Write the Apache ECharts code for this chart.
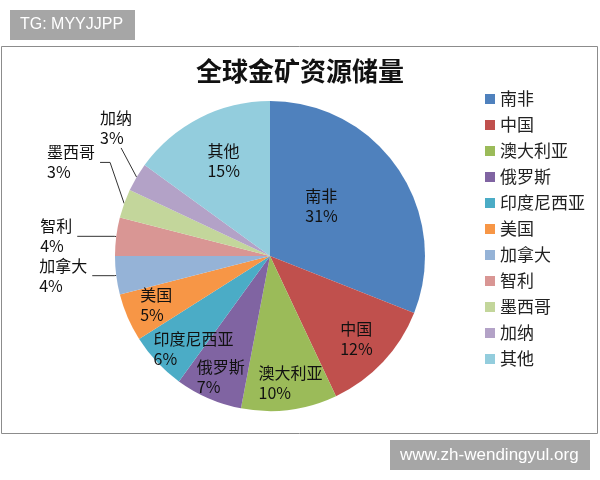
<!DOCTYPE html>
<html>
<head>
<meta charset="utf-8">
<script src="https://cdn.jsdelivr.net/npm/echarts@6/dist/echarts.min.js"></script>
<style>
  html, body { margin: 0; padding: 0; background: #fff; }
  #chart { width: 600px; height: 480px; }
</style>
</head>
<body>
<div id="chart"></div>
<script>
const titleText = "全球金矿资源储量";
const countries = ["南非", "中国", "澳大利亚", "俄罗斯", "印度尼西亚", "美国", "加拿大", "智利", "墨西哥", "加纳", "其他"];
const shares = [31, 12, 10, 7, 6, 5, 4, 4, 3, 3, 15];
const colors = ["#4f81bd", "#c0504d", "#9bbb59", "#8064a2", "#4bacc6", "#f79646", "#95b3d7", "#d99694", "#c3d69b", "#b3a2c7", "#93cddd"];

// 哪些标签画在扇区外（带引导线）
const outsideNames = ["加拿大", "智利", "墨西哥", "加纳"];
// 外部标签的引导线长度和微调
const leader = {
  "加拿大": { length: 2, length2: 22, dy: 0 },
  "智利": { length: 2, length2: 37, dy: 0 },
  "墨西哥": { length: 15, length2: 10, dy: -36 },
  "加纳": { length: 18, length2: 0, dy: -20, align: "center", verticalAlign: "bottom" },
};
// 内部标签的小幅位移（模仿 Excel 的“最佳位置”）
const insideNudge = {
  "南非": [-15, -5],
  "其他": [10, 15],
  "印度尼西亚": [14, 8],
  "俄罗斯": [0, 7],
  "澳大利亚": [5, 4],
  "中国": [-4, -2],
};

const FONT = "'Noto Sans CJK SC', 'Noto Sans', sans-serif";
const R = 155;
const CENTER = [270, 256];

const labelRich = {
  n: { align: "left", fontSize: 16, lineHeight: 20, color: "#111", fontFamily: FONT },
};
const labelFormatter = "{n|{b}}\n{n|{c}%}";

const mainData = countries.map((name, i) => {
  const item = { name, value: shares[i], itemStyle: { color: colors[i] } };
  if (outsideNames.includes(name)) {
    item.label = { show: true, position: "outside" };
    item.labelLine = { show: true, length: leader[name].length, length2: leader[name].length2 };
  } else if (name === "南非") {
    item.label = { show: true, position: "inside" };
    item.labelLine = { show: false };
  } else {
    item.label = { show: false };
    item.labelLine = { show: false };
  }
  return item;
});

// 透明环：只用来把内部标签放在更靠外的位置
const ringData = countries.map((name, i) => ({
  name,
  value: shares[i],
  label: { show: !outsideNames.includes(name) && name !== "南非" },
}));

function nudgeInside(params) {
  const n = insideNudge[countries[params.dataIndex]];
  return n ? { dx: n[0], dy: n[1], hideOverlap: false } : { hideOverlap: false };
}

const chart = echarts.init(document.getElementById("chart"));

chart.setOption({
  backgroundColor: "#fff",
  animation: false,
  title: {
    text: titleText,
    left: "center",
    top: 58,
    padding: 0,
    textStyle: { fontSize: 26, fontWeight: "bold", color: "#111", fontFamily: FONT },
  },
  legend: {
    orient: "vertical",
    left: 485,
    top: 90,
    padding: 0,
    data: countries,
    icon: "rect",
    itemWidth: 10,
    itemHeight: 10,
    itemGap: 8,
    selectedMode: false,
    textStyle: { fontSize: 17, lineHeight: 18, color: "#222", fontFamily: FONT },
  },
  graphic: [
    {
      type: "rect",
      shape: { x: 1.5, y: 46.5, width: 596, height: 387 },
      style: { fill: "none", stroke: "#8c8c8c", lineWidth: 1 },
    },
    {
      type: "rect",
      shape: { x: 10, y: 10, width: 125, height: 30 },
      style: { fill: "#a6a6a6" },
    },
    {
      type: "text",
      x: 20, y: 25,
      style: { text: "TG: MYYJJPP", fill: "#fff", fontSize: 16, fontFamily: "'Liberation Sans', Arial, sans-serif", verticalAlign: "middle" },
    },
    {
      type: "rect",
      shape: { x: 390, y: 440, width: 200, height: 30 },
      style: { fill: "#a6a6a6" },
    },
    {
      type: "text",
      x: 400, y: 455,
      style: { text: "www.zh-wendingyul.org", fill: "#fff", fontSize: 17, fontFamily: "'Liberation Sans', Arial, sans-serif", verticalAlign: "middle" },
    },
  ],
  series: [
    {
      type: "pie",
      center: CENTER,
      radius: [0, R],
      startAngle: 90,
      clockwise: true,
      avoidLabelOverlap: false,
      silent: true,
      data: mainData,
      label: { formatter: labelFormatter, rich: labelRich, distanceToLabelLine: 5 },
      labelLine: { lineStyle: { color: "#333", width: 1 } },
      labelLayout: (params) => {
        const name = countries[params.dataIndex];
        const adj = leader[name];
        if (!adj || !params.labelLinePoints) return nudgeInside(params);
        const pts = params.labelLinePoints.map((p) => p.slice());
        pts[1][1] += adj.dy;
        pts[2][1] += adj.dy;
        const out = { dy: adj.dy, labelLinePoints: pts };
        if (adj.align) out.align = adj.align;
        if (adj.verticalAlign) out.verticalAlign = adj.verticalAlign;
        return out;
      },
    },
    {
      type: "pie",
      center: CENTER,
      radius: [87, R],
      startAngle: 90,
      clockwise: true,
      avoidLabelOverlap: false,
      silent: true,
      z: 3,
      itemStyle: { color: "rgba(0,0,0,0)" },
      label: { position: "inside", formatter: labelFormatter, rich: labelRich },
      labelLine: { show: false },
      labelLayout: nudgeInside,
      emphasis: { disabled: true },
      data: ringData,
    },
  ],
});
</script>
</body>
</html>
